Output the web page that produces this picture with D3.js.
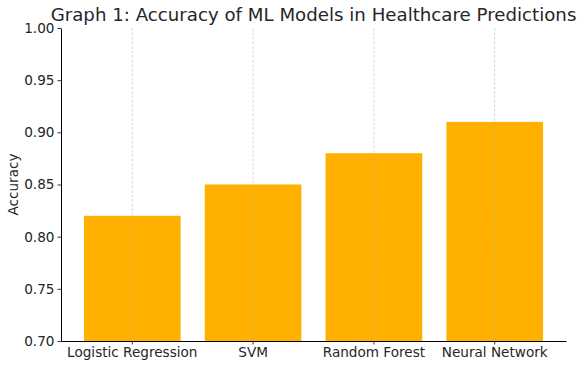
<!DOCTYPE html>
<meta charset="utf-8">
<script src="https://d3js.org/d3.v7.min.js"></script>
<style>
  body { margin: 0; background: #fff; }
  text { font-family: "DejaVu Sans", sans-serif; fill: #262626; }
</style>
<div id="my_dataviz"></div>
<script>

  // data
  var models = ["Logistic Regression", "SVM", "Random Forest", "Neural Network"]
  var accuracy = [0.82, 0.85, 0.88, 0.91]
  var yTicks = [0.70, 0.75, 0.80, 0.85, 0.90, 0.95, 1.00]

  var margin = {top: 28, right: 17, bottom: 26, left: 61},
    width = 583 - margin.left - margin.right,
    height = 367 - margin.top - margin.bottom;

  var svg = d3.select("#my_dataviz")
    .append("svg")
      .attr("width", 583)
      .attr("height", 367)
    .append("g")
      .attr("transform", "translate(" + margin.left + "," + margin.top + ")");

  var x = d3.scaleBand()
    .range([0, width])
    .domain(models)
    .paddingInner(0.2)
    .paddingOuter(0.19);

  var y = d3.scaleLinear()
    .range([height, 0])
    .domain([0.70, 1.00]);

  // bars
  svg.selectAll("rect.bar")
    .data(models)
    .enter()
    .append("rect")
      .attr("class", "bar")
      .attr("x", function(d) { return x(d) })
      .attr("y", function(d, i) { return y(accuracy[i]) })
      .attr("width", x.bandwidth())
      .attr("height", function(d, i) { return height - y(accuracy[i]) })
      .style("fill", "#ffb000");

  // vertical dashed grid at bar centers
  svg.selectAll("line.grid")
    .data(models)
    .enter()
    .append("line")
      .attr("class", "grid")
      .attr("x1", function(d) { return x(d) + x.bandwidth() / 2 })
      .attr("x2", function(d) { return x(d) + x.bandwidth() / 2 })
      .attr("y1", 0)
      .attr("y2", height)
      .style("stroke", "#b0b0b0")
      .style("stroke-opacity", 0.6)
      .style("stroke-width", 0.8)
      .style("stroke-dasharray", "3,1.5");

  // axes
  var xAxis = svg.append("g")
    .attr("transform", "translate(0," + height + ")")
    .call(d3.axisBottom(x).tickSize(3.5).tickPadding(3).tickSizeOuter(0));
  var yAxis = svg.append("g")
    .call(d3.axisLeft(y).tickValues(yTicks).tickFormat(d3.format(".2f")).tickSize(3.5).tickPadding(3).tickSizeOuter(0));

  [xAxis, yAxis].forEach(function(a) {
    a.selectAll("text").style("font-size", "13.6px").style("fill", "#262626").attr("font-family", null);
    a.selectAll("line").style("stroke", "#000").style("stroke-width", 0.8);
    a.select(".domain").style("stroke", "#000").style("stroke-width", 1);
  });

  // y label
  svg.append("text")
    .attr("transform", "rotate(-90)")
    .attr("x", -height / 2)
    .attr("y", -43)
    .attr("text-anchor", "middle")
    .style("font-size", "13.6px")
    .text("Accuracy");

  // title
  svg.append("text")
    .attr("x", width / 2)
    .attr("y", -7)
    .attr("text-anchor", "middle")
    .style("font-size", "18.2px")
    .text("Graph 1: Accuracy of ML Models in Healthcare Predictions");

</script>
